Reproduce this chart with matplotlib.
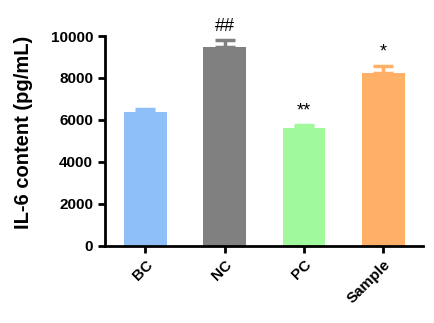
import matplotlib
matplotlib.use("Agg")
import matplotlib.pyplot as plt

categories = ["BC", "NC", "PC", "Sample"]
values = [6390, 9490, 5630, 8220]
errors = [140, 320, 140, 360]
colors = ["#8FBFF9", "#808080", "#A0FA9C", "#FFB066"]
marks = ["", "##", "**", "*"]

plt.rcParams['font.family'] = ['Liberation Sans', 'DejaVu Sans']
plt.rcParams['font.weight'] = 'bold'

fig = plt.figure(figsize=(4.35, 3.23), dpi=100)
ax = fig.add_axes([105/435, 1-245.7/323, (423-105)/435, (245.7-36)/323])

x = list(range(len(categories)))
ax.bar(x, values, width=0.54, color=colors, zorder=2)
for xi, v, e, c, m in zip(x, values, errors, colors, marks):
    ax.errorbar(xi, v, yerr=[[0], [e]], fmt='none', ecolor=c, elinewidth=2.5,
                capsize=7, capthick=2.5, zorder=1)
    if m:
        ax.text(xi, v + e + 250, m, ha='center', va='bottom', fontsize=13,
                fontweight='normal')

ax.set_xlim(-0.51, 3.5)
ax.set_ylim(0, 10000)
ax.set_yticks([0, 2000, 4000, 6000, 8000, 10000])
ax.set_xticks(x)
ax.set_xticklabels(categories, rotation=45, ha='right', rotation_mode='anchor',
                   fontsize=11, fontweight='bold')
for lab in ax.get_yticklabels():
    lab.set_fontweight('bold')
    lab.set_fontsize(11)
ax.set_ylabel("IL-6 content (pg/mL)", fontsize=14.5, fontweight='bold')
ax.yaxis.set_label_coords(-0.225, 0.54)

for s in ['top', 'right']:
    ax.spines[s].set_visible(False)
for s in ['left', 'bottom']:
    ax.spines[s].set_linewidth(2)
ax.tick_params(axis='both', width=2, length=5, direction='out')
ax.spines['bottom'].set_bounds(-0.51, 3.5)

fig.savefig("out.png", dpi=100)
